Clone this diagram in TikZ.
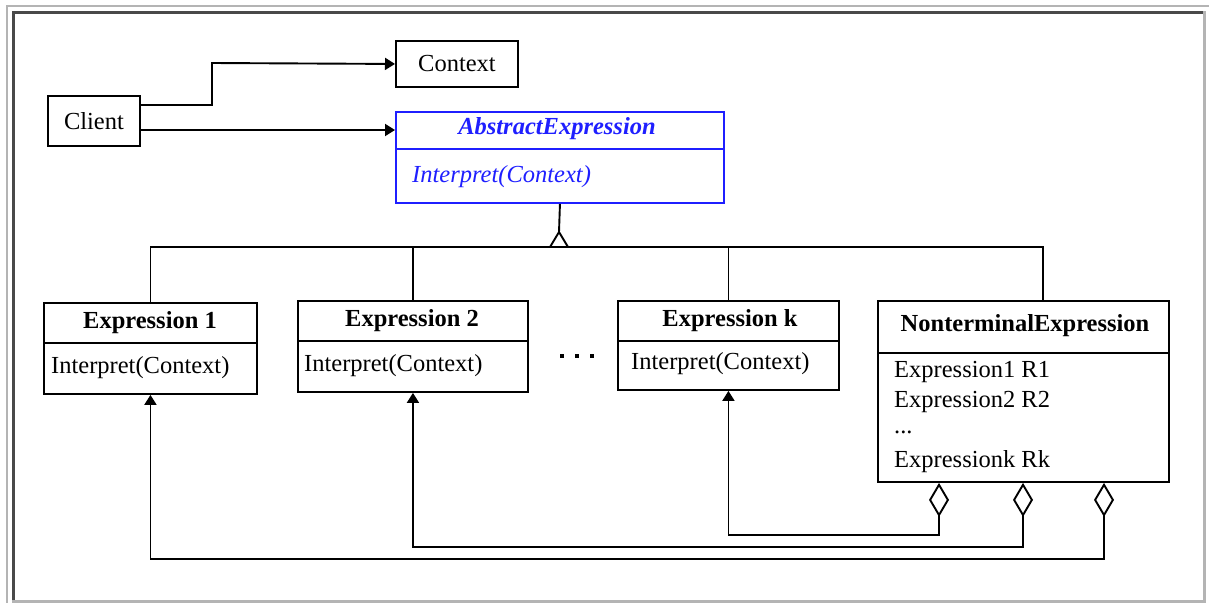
\documentclass[tikz,border=0pt]{standalone}
\usepackage{fontspec}
\setmainfont{Liberation Serif}
\usetikzlibrary{arrows.meta}
\definecolor{frlight}{HTML}{B4B4B4}
\definecolor{frdark}{HTML}{494949}
\definecolor{umlblue}{HTML}{1F1FFF}
\begin{document}
\begin{tikzpicture}[x=1pt,y=-1pt,
  txt/.style={inner sep=0pt,font=\fontsize{24.5}{28}\selectfont},
  box/.style={draw=black,line width=1.9pt,inner sep=0pt,anchor=north west,font=\fontsize{24.5}{28}\selectfont},
  bluebox/.style={draw=umlblue,line width=1.9pt,inner sep=0pt,anchor=north west},
  ttl/.style={inner sep=0pt,font=\fontsize{24.5}{28}\selectfont\bfseries},
  body/.style={inner sep=0pt,anchor=west,font=\fontsize{24.5}{28}\selectfont},
  conn/.style={line width=1.9pt},
  tip/.style={-{Triangle[length=10pt,width=12pt]}},
  aggr/.style={{Diamond[open,length=34pt,width=20pt]}-{Triangle[length=10pt,width=12pt]}},
]
\useasboundingbox (0,0) rectangle (1209,603);
\fill[white] (0,0) rectangle (1209,603);
% frame
\fill[frlight] (6,5) rectangle (1209,7);
\fill[frlight] (6,5) rectangle (8,603);
\fill[frdark] (12,11) rectangle (1203,13.5);
\fill[frdark] (12,11) rectangle (14.5,600);
\fill[frlight] (1203,11) rectangle (1206,603);
\fill[frlight] (12,600) rectangle (1206,603);

% top boxes
\node[box,minimum width=92pt,minimum height=50pt] (client) at (47,95) {Client};
\node[box,minimum width=122pt,minimum height=46pt] (context) at (395,40) {Context};

% abstract expression
\node[bluebox,minimum width=328pt,minimum height=91pt] (abs) at (395,111) {};
\draw[umlblue,line width=1.9pt] (abs.west |- 0,149) -- (abs.east |- 0,149);
\node[txt,text=umlblue,font=\fontsize{24.5}{28}\selectfont\bfseries\itshape] (abst) at (557,129) {AbstractExpression};
\node[body,text=umlblue,font=\fontsize{24.5}{28}\selectfont\itshape] (absb) at (412,177) {Interpret(Context)};

% expression 1
\node[box,minimum width=213pt,minimum height=91pt] (e1) at (43,302) {};
\draw[conn] (e1.west |- 0,343) -- (e1.east |- 0,343);
\node[ttl] (e1t) at (150,323) {Expression 1};
\node[body] (e1b) at (51,368) {Interpret(Context)};

% expression 2
\node[box,minimum width=230pt,minimum height=91pt] (e2) at (297,300) {};
\draw[conn] (e2.west |- 0,341) -- (e2.east |- 0,341);
\node[ttl] (e2t) at (412,321) {Expression 2};
\node[body] (e2b) at (304,366) {Interpret(Context)};

% dots
\fill (560,354) rectangle (564,358);
\fill (575,354) rectangle (579,358);
\fill (590,354) rectangle (594,358);

% expression k
\node[box,minimum width=221pt,minimum height=89pt] (ek) at (617,300) {};
\draw[conn] (ek.west |- 0,341) -- (ek.east |- 0,341);
\node[ttl] (ekt) at (730,321) {Expression k};
\node[body] (ekb) at (631,364) {Interpret(Context)};

% nonterminal
\node[box,minimum width=291pt,minimum height=181pt] (nt) at (877,300) {};
\draw[conn] (nt.west |- 0,353) -- (nt.east |- 0,353);
\node[ttl] (ntt) at (1025,326) {NonterminalExpression};
\node[body] (nt1) at (894,372) {Expression1 R1};
\node[body] (nt2) at (894,402) {Expression2 R2};
\node[body] (nt3) at (894,432) {...};
\node[body] (nt4) at (894,462) {Expressionk Rk};

% client associations
\draw[conn,tip] (client.east |- 0,105) -- (212,105) -- (212,63) -- (context.west);
\draw[conn,tip] (client.east |- 0,130) -- (abs.west |- 0,130);

% inheritance
\coordinate (ntx) at (1043,0);
\coordinate (apex) at (559,232);
\draw[conn] (abs.south) -- (apex);
\draw[conn,fill=white,line join=miter] (550,247) -- (apex) -- (568,247) -- cycle;
\draw[conn] (e1.north) -- (e1.north |- 0,247) -- (ntx |- 0,247) -- (nt.north -| ntx);
\draw[conn] (e2.north) -- (e2.north |- 0,247);
\draw[conn] (ek.north) -- (ek.north |- 0,247);

% aggregations
\coordinate (d1) at (939,0);
\coordinate (d2) at (1023,0);
\coordinate (d3) at (1104,0);
\draw[conn,aggr] (nt.south -| d1) -- (d1 |- 0,535) -- (ek.south |- 0,535) -- (ek.south);
\draw[conn,aggr] (nt.south -| d2) -- (d2 |- 0,547) -- (e2.south |- 0,547) -- (e2.south);
\draw[conn,aggr] (nt.south -| d3) -- (d3 |- 0,559) -- (e1.south |- 0,559) -- (e1.south);
\end{tikzpicture}
\end{document}
